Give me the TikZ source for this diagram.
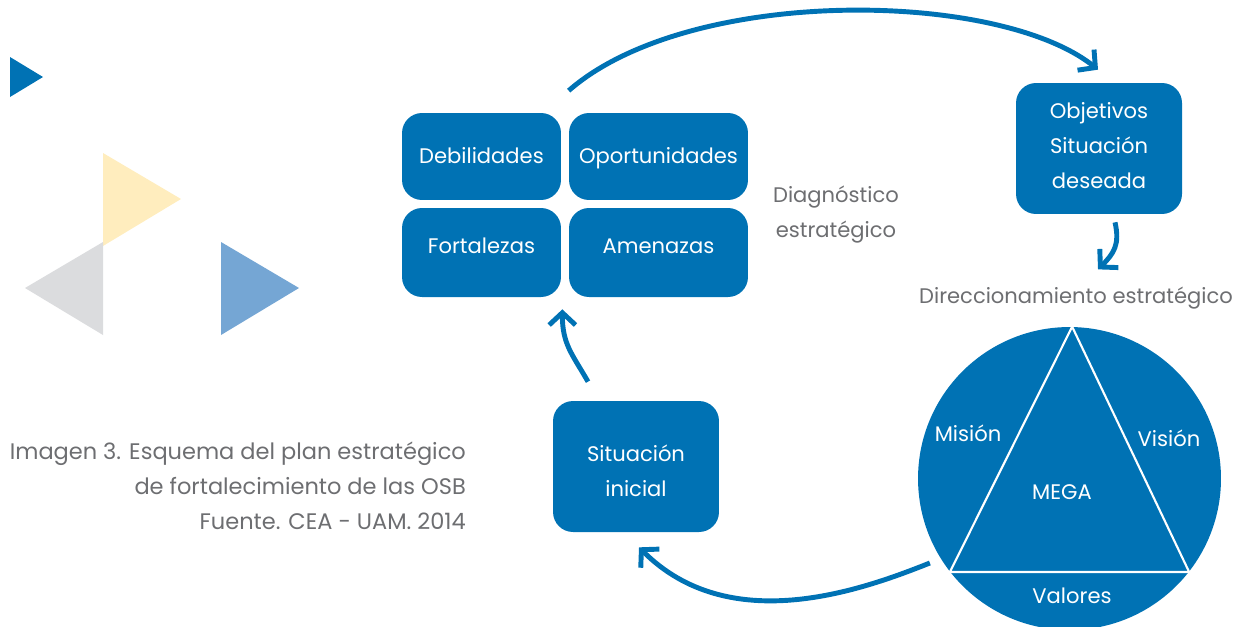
\documentclass[tikz,border=0pt]{standalone}
\usepackage{fontspec}
\setmainfont{Poppins}
\usetikzlibrary{calc,arrows.meta}

\definecolor{azul}{RGB}{0,114,180}
\definecolor{amarillo}{RGB}{255,237,190}
\definecolor{grisclaro}{RGB}{219,220,222}
\definecolor{celeste}{RGB}{117,166,212}
\definecolor{grisT}{RGB}{109,110,113}

\begin{document}
\begin{tikzpicture}[x=0.02cm,y=-0.02cm,
  caja/.style={fill=azul, rounded corners=0.4cm, text=white, align=center,
    inner sep=0pt, font=\fontsize{12}{19.9}\selectfont},
  blanco/.style={text=white, font=\fontsize{12}{19.9}\selectfont},
  gris/.style={text=grisT, align=center, font=\fontsize{12}{19.9}\selectfont},
  flecha/.style={azul, line width=2.8pt,
    -{Straight Barb[length=7pt,width=15pt]}}]
  \useasboundingbox (0,0) rectangle (1239,626);

  % 装饰三角形
  \fill[azul] (10,57) -- (10,97) -- (43,77) -- cycle;
  \fill[amarillo] (103,153) -- (103,246) -- (181,199) -- cycle;
  \fill[grisclaro] (103,242) -- (103,335) -- (25,288) -- cycle;
  \fill[celeste] (221,242) -- (221,335) -- (299,288) -- cycle;

  % DOFA 四个方框
  \node[caja, minimum width=3.18cm, minimum height=1.74cm, text height=8.4pt, text depth=0pt] (debil) at (481.5,156.5) {Debilidades};
  \node[caja, minimum width=3.58cm, minimum height=1.74cm, text height=8.4pt, text depth=0pt] (oport) at (658.5,156.5) {Oportunidades};
  \node[caja, minimum width=3.18cm, minimum height=1.78cm, text height=8.4pt, text depth=7.4pt] (fort) at (481.5,252.5) {Fortalezas};
  \node[caja, minimum width=3.58cm, minimum height=1.78cm, text height=8.4pt, text depth=7.4pt] (amen) at (658.5,252.5) {Amenazas};
  \node[gris] (diag) at (836,214.5) {Diagnóstico\\estratégico};

  % 目标与初始情况
  \node[caja, minimum width=3.32cm, minimum height=2.62cm] (objet) at (1099,148.5)
    {Objetivos\\Situación\\deseada\rule[-3.4pt]{0pt}{3.4pt}};
  \node[caja, minimum width=3.32cm, minimum height=2.62cm] (sit) at (636,466.5)
    {\rule{0pt}{14pt}Situación\\inicial};
  \node[gris] (direc) at (1076,298) {Direccionamiento estratégico};

  % 圆与三角形
  \node[circle, fill=azul, minimum size=6.06cm, inner sep=0pt] (circ) at (1069.5,478.5) {};
  \draw[white, line width=1.2pt] (circ.89) -- (circ.218.5) -- (circ.-38.5) -- cycle;
  \node[blanco] (mision) at (968,433) {Misión};
  \node[blanco] (vision) at (1169,438) {Visión};
  \node[blanco] (mega) at (1062,492) {MEGA};
  \node[blanco] (valores) at (1072,596) {Valores};

  % 说明文字
  \node[gris, align=right, anchor=east, font=\fontsize{12.8}{19.9}\selectfont] (pie) at (472,486)
    {Imagen 3. Esquema del plan estratégico\\de fortalecimiento de las OSB\\Fuente. CEA - UAM. 2014};

  % 箭头端点
  \coordinate (a1) at ($(oport.north west)+(0,-22)$);
  \coordinate (a2) at ($(objet.north)+(-1,-13)$);
  \coordinate (b1) at ($(objet.south)+(16,8)$);
  \coordinate (b2) at ($(objet.south)+(-1,55)$);
  \coordinate (c1) at ($(circ.218.5)+(-20,-9)$);
  \coordinate (c2) at ($(sit.south)+(3,15)$);
  \coordinate (d1) at ($(sit.north)+(-48,-19)$);
  \coordinate (d2) at ($(fort.south east)+(1,12)$);

  % 箭头
  \draw[flecha] (a1) .. controls +(120,-105) and +(-100,-80) .. (a2);
  \draw[flecha] (b1) .. controls +(5,22) and +(16,-16) .. (b2);
  \draw[flecha] (c1) .. controls +(-70,28) and +(90,90) .. (c2);
  \draw[flecha] (d1) .. controls +(-16,-28) and +(0,35) .. (d2);

\end{tikzpicture}
\end{document}
